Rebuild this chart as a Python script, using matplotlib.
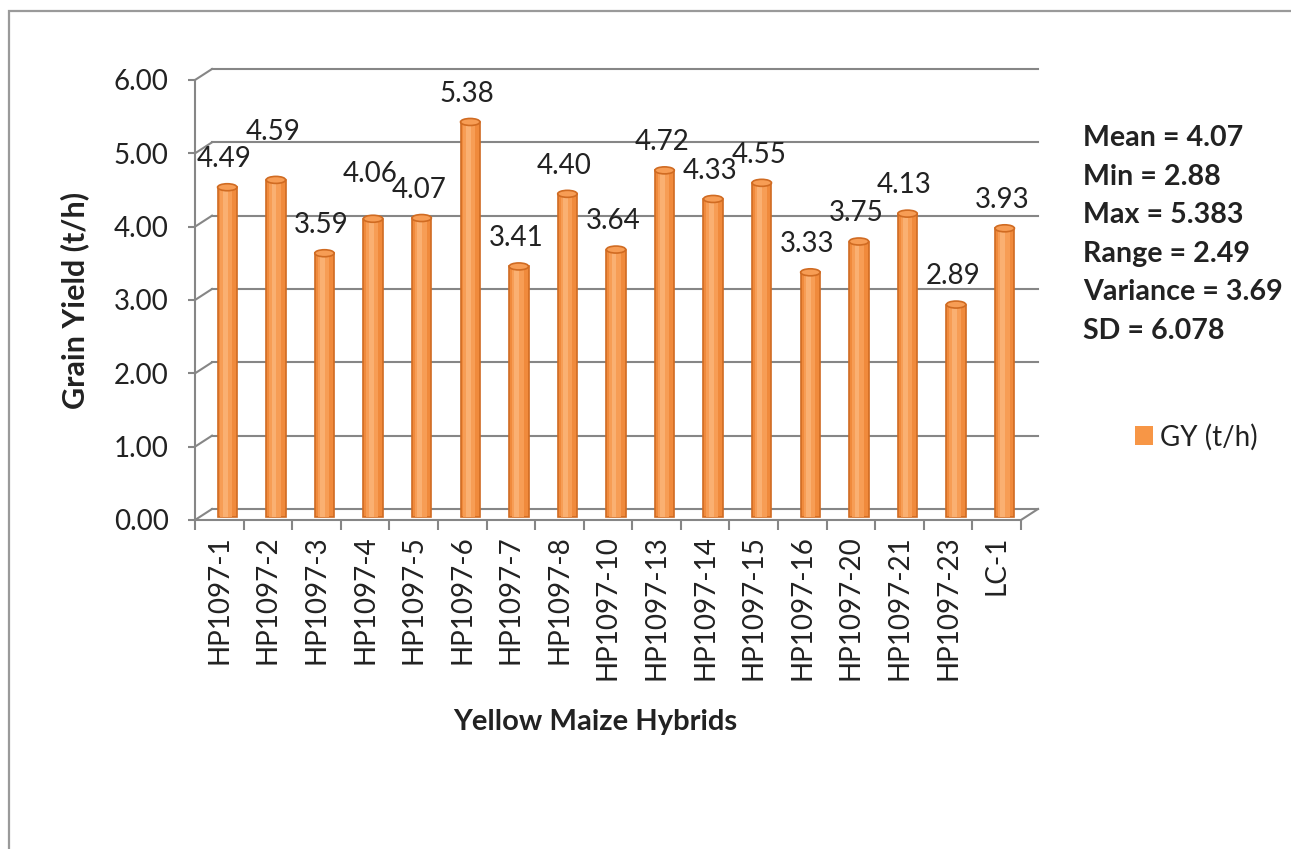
import matplotlib
matplotlib.use("Agg")
import matplotlib.pyplot as plt
from matplotlib.patches import Rectangle, Ellipse
from matplotlib.transforms import ScaledTranslation
from matplotlib.lines import Line2D

# ---- data ----
hybrids = ["HP1097-1", "HP1097-2", "HP1097-3", "HP1097-4", "HP1097-5", "HP1097-6",
           "HP1097-7", "HP1097-8", "HP1097-10", "HP1097-13", "HP1097-14", "HP1097-15",
           "HP1097-16", "HP1097-20", "HP1097-21", "HP1097-23", "LC-1"]
grain_yield = [4.49, 4.59, 3.59, 4.06, 4.07, 5.38, 3.41, 4.40, 3.64, 4.72,
               4.33, 4.55, 3.33, 3.75, 4.13, 2.89, 3.93]
y_ticks = [0, 1, 2, 3, 4, 5, 6]
series_name = "GY (t/h)"
stats_lines = ["Mean = 4.07", "Min = 2.88", "Max = 5.383", "Range = 2.49",
               "Variance = 3.69", "SD = 6.078"]

# extra lift (points) for labels that would otherwise collide
label_lift = [0, 14, 0, 12, 0, 0, 0, 0, 0, 0, 0, 0, 0, 0, 0, 0, 0]

# ---- style ----
FONT = "Lato"
GRID = "#868686"
BAR_DARK = "#D06B22"
BAR_MID = "#F08A3C"
BAR_LIGHT = "#F79D55"
BAR_HI = "#FAB072"
TXT = "#222222"
FS = 20

W, H = 1291, 849
fig = plt.figure(figsize=(W / 100, H / 100), dpi=100)
fig.patch.set_facecolor("white")

# outer chart frame (runs off the right and bottom edges)
fig.patches.append(Rectangle((9 / W, -0.05), 1.2, (H - 11) / H + 0.05,
                             transform=fig.transFigure, fill=False,
                             edgecolor="#9a9a9a", lw=1.6))

ax = fig.add_axes([195 / W, (H - 520) / H, 826 / W, 440 / H])
n = len(hybrids)
ax.set_xlim(0, n)
ax.set_ylim(0, 6)
ax.set_facecolor("none")

# depth of the pseudo-3D walls (in data units)
px_x = n / 826.0
px_y = 6 / 440.0
dx, dy = 17 * px_x, 11 * px_y

# back wall gridlines and side-wall diagonals
for g in y_ticks:
    ax.add_line(Line2D([dx, n + dx], [g + dy, g + dy], color=GRID, lw=1.5,
                       clip_on=False, zorder=1))
    ax.add_line(Line2D([0, dx], [g, g + dy], color=GRID, lw=1.5,
                       clip_on=False, zorder=1))
# floor right edge
ax.add_line(Line2D([n, n + dx], [0, dy], color=GRID, lw=1.5, clip_on=False, zorder=1))

# spines: front vertical axis and front floor edge
for s in ["top", "right"]:
    ax.spines[s].set_visible(False)
for s in ["left", "bottom"]:
    ax.spines[s].set_color(GRID)
    ax.spines[s].set_linewidth(1.5)

ax.set_yticks(y_ticks)
ax.set_yticklabels([f"{v:.2f}" for v in y_ticks], fontsize=FS, family=FONT, color=TXT)
ax.tick_params(axis="y", length=5, width=1.5, color=GRID, pad=14)

ax.set_xticks(range(n + 1))
ax.set_xticklabels([])
ax.set_xticks([i + 0.5 for i in range(n)], minor=True)
ax.set_xticklabels(hybrids, minor=True, rotation=90, fontsize=FS, family=FONT, color=TXT)
ax.tick_params(axis="x", which="major", length=7, width=1.5, color=GRID)
ax.tick_params(axis="x", which="minor", length=0, pad=11)

# bars sit half-way into the depth
bar_tr = ax.transData + ScaledTranslation(8 / 100, 3.5 / 100, fig.dpi_scale_trans)
xs = [i + 0.5 for i in range(n)]
bw = 0.40
bars = ax.bar(xs, grain_yield, width=bw, color=BAR_MID, edgecolor=BAR_DARK, lw=1.2,
              transform=bar_tr, zorder=3, label=series_name)
ax.bar([x - 0.02 for x in xs], grain_yield, width=bw * 0.6, color=BAR_LIGHT, lw=0,
       transform=bar_tr, zorder=3.1)
ax.bar([x - 0.04 for x in xs], grain_yield, width=bw * 0.25, color=BAR_HI, lw=0,
       transform=bar_tr, zorder=3.2)
cap_h = 7 * px_y
for x, v in zip(xs, grain_yield):
    ax.add_patch(Ellipse((x, v), bw, cap_h, facecolor=BAR_LIGHT, edgecolor=BAR_DARK,
                         lw=1.2, transform=bar_tr, zorder=3.3))

# value labels
lab_tr = ax.transData + ScaledTranslation(5 / 100, 3.5 / 100, fig.dpi_scale_trans)
for x, v, lift in zip(xs, grain_yield, label_lift):
    ax.annotate(f"{v:.2f}", (x, v), xycoords=lab_tr, xytext=(0, 11 + lift),
                textcoords="offset points", ha="center", va="bottom",
                fontsize=FS, family=FONT, color=TXT, zorder=4)

# axis titles
fig.text(75 / W, 1 - 300 / H, "Grain Yield (t/h)", rotation=90, ha="center", va="center",
         fontsize=22, fontweight="bold", family=FONT, color=TXT)
fig.text(595 / W, 1 - 722 / H, "Yellow Maize Hybrids", ha="center", va="center",
         fontsize=21, fontweight="bold", family=FONT, color=TXT)

# summary statistics
for k, line in enumerate(stats_lines):
    fig.text(1083 / W, 1 - (138 + 38.6 * k) / H, line, ha="left", va="center",
             fontsize=20.6, fontweight="bold", family=FONT, color=TXT)

# legend
leg = fig.legend(handles=[bars], labels=[series_name], loc="center left",
                 bbox_to_anchor=(1135 / W, 1 - 437 / H), frameon=False,
                 prop={"family": FONT, "size": 20}, handlelength=0.65,
                 handleheight=0.65, handletextpad=0.25, borderaxespad=0, borderpad=0)
for t in leg.get_texts():
    t.set_color(TXT)
for h in leg.legend_handles:
    h.set_edgecolor("none")
    h.set_facecolor("#F79646")

fig.savefig("out.png", dpi=100, facecolor="white")
